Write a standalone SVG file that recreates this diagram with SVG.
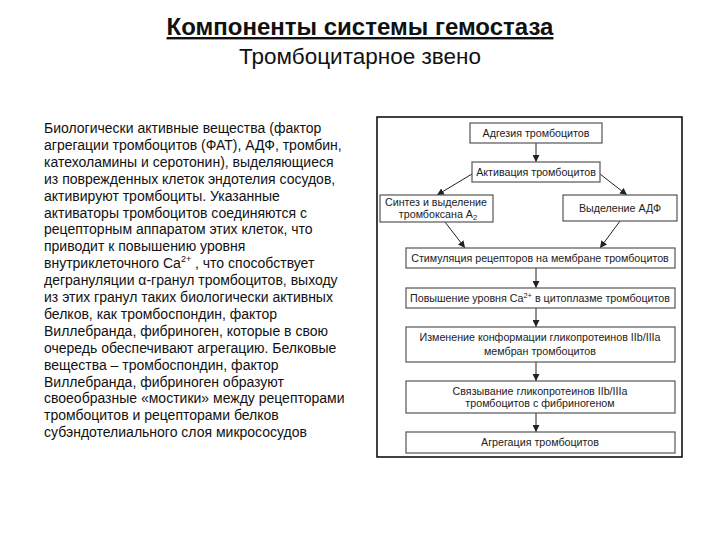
<svg xmlns="http://www.w3.org/2000/svg" width="720" height="540" viewBox="0 0 720 540">
<style>
.t{font-family:"Liberation Sans",Arial,sans-serif;fill:#111}
.title{font-size:24px;font-weight:bold;text-anchor:middle;text-decoration:underline}
.sub{font-size:22.5px;text-anchor:middle}
.body{font-size:14px}
.bx{fill:#fff;stroke:#555;stroke-width:1.2}
.bt{font-family:"Liberation Sans",Arial,sans-serif;font-size:10.7px;fill:#222;text-anchor:middle}
.ar{stroke:#222;stroke-width:1;fill:none;marker-end:url(#ah)}
</style>
<defs>
<marker id="ah" markerUnits="userSpaceOnUse" viewBox="0 0 10 10" refX="10" refY="5" markerWidth="7" markerHeight="7" orient="auto">
<path d="M0,0 L10,5 L0,10 z" fill="#222"/>
</marker>
</defs>
<rect width="720" height="540" fill="#fff"/>
<g id="title">
<text class="t title" x="360" y="35">Компоненты системы гемостаза</text>
<text class="t sub" x="360" y="64">Тромбоцитарное звено</text>
</g>
<g id="bodytext" class="t body">
<text x="44" y="133">Биологически активные вещества (фактор</text>
<text x="44" y="149.9">агрегации тромбоцитов (ФАТ), АДФ, тромбин,</text>
<text x="44" y="166.8">катехоламины и серотонин),  выделяющиеся</text>
<text x="44" y="183.7">из поврежденных клеток эндотелия сосудов,</text>
<text x="44" y="200.6">активируют тромбоциты. Указанные</text>
<text x="44" y="217.5">активаторы тромбоцитов соединяются с</text>
<text x="44" y="234.4">рецепторным аппаратом этих клеток, что</text>
<text x="44" y="251.3">приводит к повышению уровня</text>
<text x="44" y="268.2">внутриклеточного Ca<tspan font-size="9" dy="-6">2+</tspan><tspan dy="6"> , что способствует</tspan></text>
<text x="44" y="285.1">дегрануляции α-гранул тромбоцитов, выходу</text>
<text x="44" y="302">из этих гранул таких биологически активных</text>
<text x="44" y="318.9">белков, как тромбоспондин, фактор</text>
<text x="44" y="335.8">Виллебранда, фибриноген, которые в свою</text>
<text x="44" y="352.7">очередь обеспечивают агрегацию. Белковые</text>
<text x="44" y="369.6">вещества – тромбоспондин, фактор</text>
<text x="44" y="386.5">Виллебранда, фибриноген образуют</text>
<text x="44" y="403.4">своеобразные «мостики» между рецепторами</text>
<text x="44" y="420.3">тромбоцитов и рецепторами белков</text>
<text x="44" y="437.2">субэндотелиального слоя микрососудов</text>
</g>
<rect id="frame" x="377" y="117" width="305" height="340" fill="none" stroke="#111" stroke-width="1.6"/>
<g id="connectors">
<line class="ar" x1="536" y1="143" x2="536" y2="162"/>
<line class="ar" x1="472" y1="174" x2="437" y2="195"/>
<line class="ar" x1="600" y1="174" x2="627" y2="195"/>
<line class="ar" x1="445" y1="222" x2="465" y2="248"/>
<line class="ar" x1="620" y1="221" x2="600" y2="248"/>
<line class="ar" x1="536" y1="268" x2="536" y2="288"/>
<line class="ar" x1="536" y1="308" x2="536" y2="327"/>
<line class="ar" x1="536" y1="362" x2="536" y2="381"/>
<line class="ar" x1="536" y1="413" x2="536" y2="432"/>
</g>
<g id="n1"><rect class="bx" x="470" y="123" width="132" height="20"/><text class="bt" x="536" y="137">Адгезия тромбоцитов</text></g>
<g id="n2"><rect class="bx" x="472" y="162" width="128" height="20"/><text class="bt" x="536" y="176">Активация тромбоцитов</text></g>
<g id="n3"><rect class="bx" x="380" y="195" width="113" height="27"/><text class="bt" x="436" y="206">Синтез и выделение</text><text class="bt" x="438" y="218">тромбоксана A<tspan font-size="7.5" dy="2">2</tspan></text></g>
<g id="n4"><rect class="bx" x="563" y="195" width="114" height="26"/><text class="bt" x="620" y="212">Выделение АДФ</text></g>
<g id="n5"><rect class="bx" x="406" y="248" width="269" height="20"/><text class="bt" x="540" y="262">Стимуляция рецепторов на мембране тромбоцитов</text></g>
<g id="n6"><rect class="bx" x="406" y="288" width="269" height="20"/><text class="bt" x="540" y="302">Повышение уровня Ca<tspan font-size="7.5" dy="-4">2+</tspan><tspan dy="4"> в цитоплазме тромбоцитов</tspan></text></g>
<g id="n7"><rect class="bx" x="406" y="327" width="269" height="35"/><text class="bt" x="540" y="341">Изменение конформации гликопротеинов IIb/IIIa</text><text class="bt" x="540" y="355">мембран тромбоцитов</text></g>
<g id="n8"><rect class="bx" x="406" y="381" width="269" height="32"/><text class="bt" x="540" y="395">Связывание гликопротеинов IIb/IIIa</text><text class="bt" x="540" y="407">тромбоцитов с фибриногеном</text></g>
<g id="n9"><rect class="bx" x="406" y="432" width="269" height="21"/><text class="bt" x="540" y="446">Агрегация тромбоцитов</text></g>
</svg>
